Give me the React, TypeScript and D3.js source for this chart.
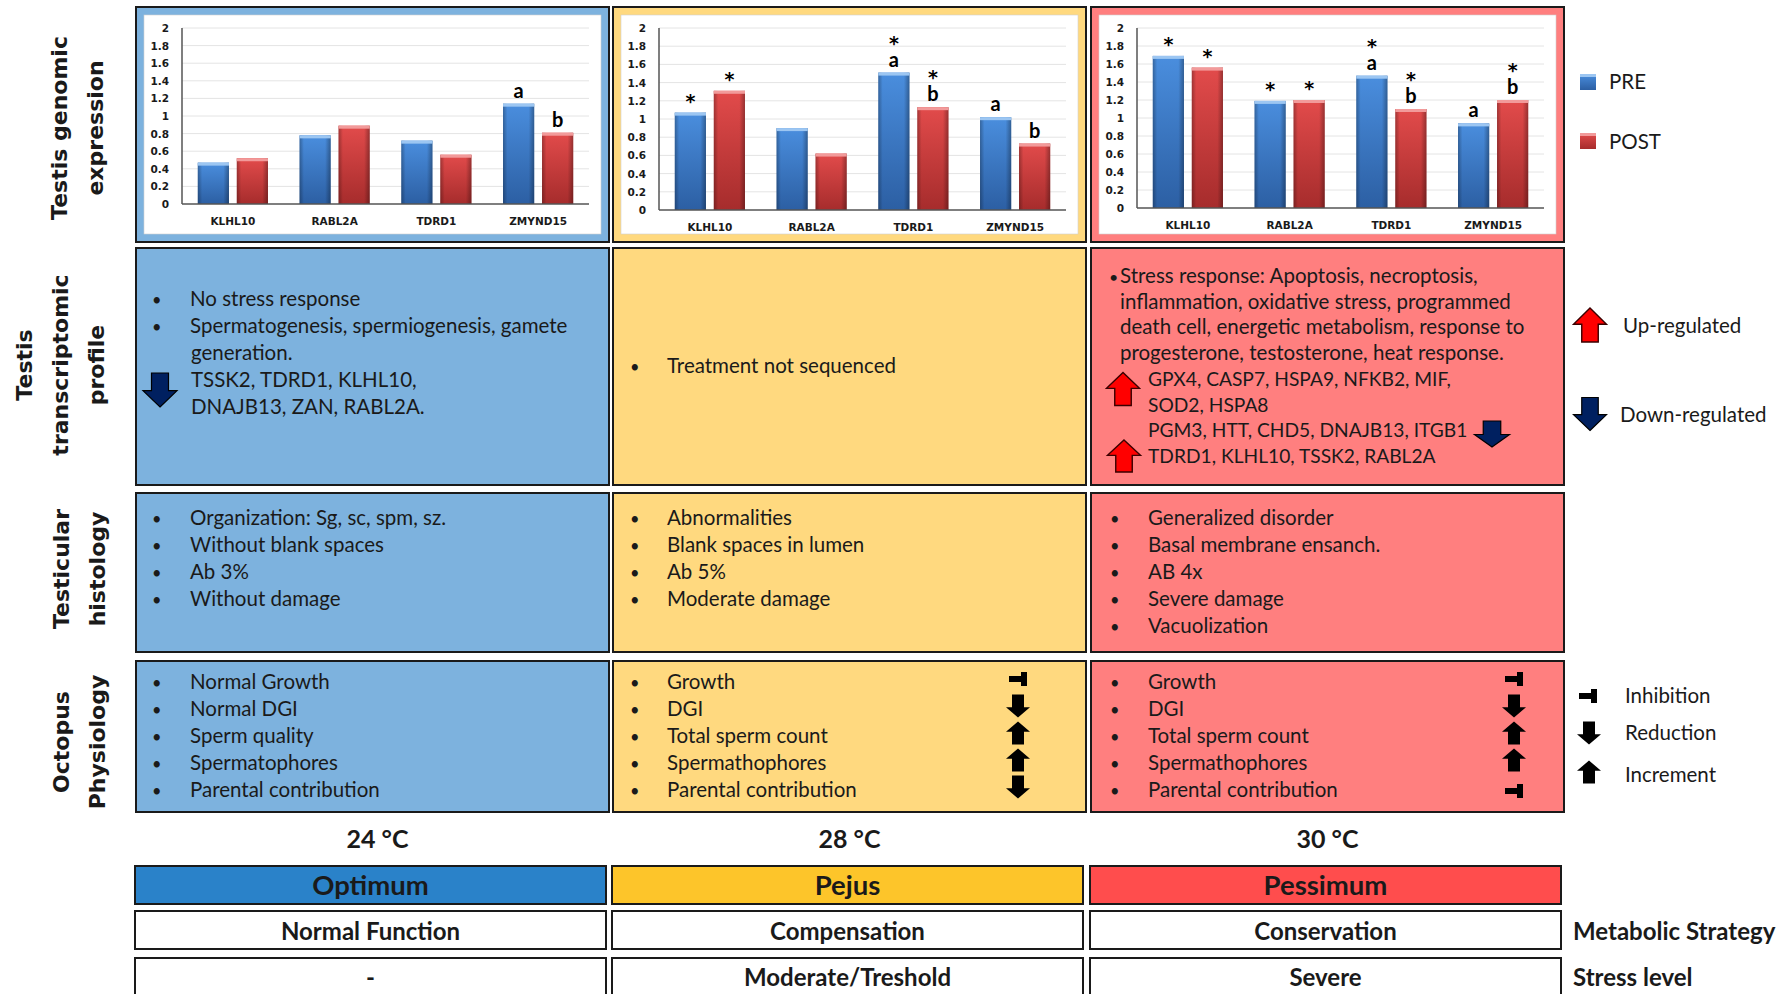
import React from "react";
import * as d3 from "d3";

// ---- data -------------------------------------------------------------
const genes = ["KLHL10", "RABL2A", "TDRD1", "ZMYND15"];
const groups = ["PRE", "POST"];
const temperatures = ["24 °C", "28 °C", "30 °C"];
const zones = ["Optimum", "Pejus", "Pessimum"];
const strategies = ["Normal Function", "Compensation", "Conservation"];
const stressLevels = ["-", "Moderate/Treshold", "Severe"];

// relative expression per gene (PRE / POST spawning)
const pre24 = [0.47, 0.78, 0.72, 1.14];
const post24 = [0.52, 0.89, 0.56, 0.81];
const pre28 = [1.07, 0.9, 1.51, 1.02];
const post28 = [1.31, 0.62, 1.13, 0.73];
const pre30 = [1.69, 1.19, 1.47, 0.94];
const post30 = [1.56, 1.2, 1.1, 1.2];

// significance marks stacked above each bar, listed from the bar upwards
const marksPre24 = [[], [], [], ["a"]];
const marksPost24 = [[], [], [], ["b"]];
const marksPre28 = [["*"], [], ["a", "*"], ["a"]];
const marksPost28 = [["*"], [], ["b", "*"], ["b"]];
const marksPre30 = [["*"], ["*"], ["a", "*"], ["a"]];
const marksPost30 = [["*"], ["*"], ["b", "*"], ["b", "*"]];

const transcriptomic24 = ["No stress response", "Spermatogenesis, spermiogenesis, gamete"];
const transcriptomic24b = ["generation.", "TSSK2, TDRD1, KLHL10,", "DNAJB13, ZAN, RABL2A."];
const transcriptomic28 = ["Treatment not sequenced"];
const transcriptomic30 = [
  "Stress response: Apoptosis, necroptosis,",
  "inflammation, oxidative stress, programmed",
  "death cell, energetic metabolism, response to",
  "progesterone, testosterone, heat response.",
];
const transcriptomic30genes = [
  "GPX4, CASP7, HSPA9, NFKB2, MIF,",
  "SOD2, HSPA8",
  "PGM3, HTT, CHD5, DNAJB13, ITGB1",
  "TDRD1, KLHL10, TSSK2, RABL2A",
];

const histology24 = ["Organization: Sg, sc, spm, sz.", "Without blank spaces", "Ab 3%", "Without damage"];
const histology28 = ["Abnormalities", "Blank spaces in lumen", "Ab 5%", "Moderate damage"];
const histology30 = ["Generalized disorder", "Basal membrane ensanch.", "AB 4x", "Severe damage", "Vacuolization"];

const physiology24 = ["Normal Growth", "Normal DGI", "Sperm quality", "Spermatophores", "Parental contribution"];
const physiology28 = ["Growth", "DGI", "Total sperm count", "Spermathophores", "Parental contribution"];
const physiology30 = ["Growth", "DGI", "Total sperm count", "Spermathophores", "Parental contribution"];
const trend28 = ["inhibition", "reduction", "increment", "increment", "reduction"];
const trend30 = ["inhibition", "reduction", "increment", "increment", "inhibition"];

const rowLabels = [
  ["Testis genomic", "expression"],
  ["Testis", "transcriptomic", "profile"],
  ["Testicular", "histology"],
  ["Octopus", "Physiology"],
];

// ---- layout & style ------------------------------------------------------
const W = 1787;
const H = 994;
const colX = [136, 613, 1091];
const colW = 473;
const panelFill = ["#7DB2DE", "#FFD97F", "#FF7F7F"];
const zoneFill = ["#2A82C9", "#FDC52A", "#FF4D4D"];
const chartBottoms = [204, 210, 208];
const BODY = "Lato, 'Open Sans', sans-serif";
const HEAD = "'DejaVu Sans', Verdana, sans-serif";
const INK = "#1a1a1a";
const FS = 20.5;

function blockArrow(cx: number, cy: number, w: number, h: number, dir: "up" | "down", shaft = 0.5, head = 0.48) {
  const s = dir === "up" ? 1 : -1;
  const tip = cy - (s * h) / 2;
  const base = cy + (s * h) / 2;
  const neck = tip + s * h * head;
  const pts: [number, number][] = [
    [cx, tip],
    [cx + w / 2, neck],
    [cx + (w * shaft) / 2, neck],
    [cx + (w * shaft) / 2, base],
    [cx - (w * shaft) / 2, base],
    [cx - (w * shaft) / 2, neck],
    [cx - w / 2, neck],
  ];
  return d3.line()(pts) + "Z";
}

function Inhibit({ cx, cy }: { cx: number; cy: number }) {
  return (
    <g fill="#000">
      <rect x={cx - 9} y={cy - 3} width={15} height={6} />
      <rect x={cx + 3} y={cy - 7} width={6} height={14} />
    </g>
  );
}

function TrendMark({ kind, cx, cy }: { kind: string; cx: number; cy: number }) {
  if (kind === "inhibition") return <Inhibit cx={cx} cy={cy} />;
  return <path d={blockArrow(cx, cy, 24, 23, kind === "increment" ? "up" : "down", 0.5, 0.45)} fill="#000" />;
}

function ExpressionChart({ idx, pre, post, preMarks, postMarks }: any) {
  const x0 = colX[idx];
  const bottom = chartBottoms[idx];
  const left = x0 + 46;
  const right = x0 + colW - 20;
  const y = d3.scaleLinear().domain([0, 2]).range([bottom, 28]);
  const xb = d3.scaleBand().domain(genes).range([left, right]).paddingInner(0.31).paddingOuter(0.155);
  const xs = d3.scaleBand().domain(groups).range([0, xb.bandwidth()]).paddingInner(0.2);
  const ticks = y.ticks(10);
  const values = [pre, post];
  const marks = [preMarks, postMarks];
  return (
    <g>
      <rect x={x0} y={7} width={colW} height={235} fill={panelFill[idx]} stroke={INK} strokeWidth={2} />
      <rect x={x0 + 8} y={15} width={colW - 16} height={219} fill="#fff" stroke="#cfcfcf" strokeWidth={0.6} />
      {ticks.map((t) => (
        <g key={t}>
          {t > 0 && <line x1={left} x2={right} y1={y(t)} y2={y(t)} stroke="#e4e4e4" strokeWidth={1} />}
          <text
            x={left - 13}
            y={y(t)}
            textAnchor="end"
            dominantBaseline="central"
            fontFamily={HEAD}
            fontWeight="bold"
            fontSize={10.5}
            fill={INK}
          >
            {String(+t.toFixed(1))}
          </text>
        </g>
      ))}
      {genes.map((g, gi) =>
        groups.map((s, si) => {
          const v = values[si][gi];
          const bx = (xb(g) as number) + (xs(s) as number);
          const bw = xs.bandwidth();
          const top = y(v);
          const fillId = si === 0 ? "barBlue" : "barRed";
          return (
            <g key={g + s}>
              <rect x={bx} y={top} width={bw} height={bottom - top} fill={`url(#${fillId})`} />
              <rect x={bx} y={top} width={bw} height={bottom - top} fill="url(#barEdge)" />
              <rect x={bx} y={top} width={bw} height={3} fill={si === 0 ? "#9CC6F2" : "#F29A9A"} />
              {marks[si][gi].map((m: string, mi: number) => {
                const cx = bx + bw / 2;
                // letters sit on a baseline just above the bar; an asterisk stacked
                // over a letter is lifted by one line
                const base = m === "*" ? (mi === 0 ? top - 5 : top - 23) : top - 6;
                return (
                  <text
                    key={mi}
                    x={cx}
                    y={base}
                    textAnchor="middle"
                    fontFamily={m === "*" ? HEAD : BODY}
                    fontWeight="bold"
                    fontSize={m === "*" ? 19 : 20}
                    fill="#000"
                  >
                    {m}
                  </text>
                );
              })}
            </g>
          );
        })
      )}
      <line x1={left} x2={left} y1={y(2)} y2={bottom} stroke="#555" strokeWidth={1.5} />
      <line x1={left} x2={right} y1={bottom} y2={bottom} stroke="#555" strokeWidth={1.5} />
      {genes.map((g) => (
        <text
          key={g}
          x={(xb(g) as number) + xb.bandwidth() / 2}
          y={bottom + 17}
          textAnchor="middle"
          dominantBaseline="central"
          fontFamily={HEAD}
          fontWeight="bold"
          fontSize={10.5}
          fill={INK}
        >
          {g}
        </text>
      ))}
    </g>
  );
}

function Bullets({ x0, lines, baseline, step = 27, bulletDx = 16, textDx = 54, size = FS }: any) {
  return (
    <g fontFamily={BODY} fontSize={size} fill={INK}>
      {lines.map((t: string, i: number) => (
        <g key={i}>
          <text x={x0 + bulletDx} y={baseline + i * step} fontSize={size * 0.8}>
            •
          </text>
          <text x={x0 + textDx} y={baseline + i * step}>
            {t}
          </text>
        </g>
      ))}
    </g>
  );
}

function Panel({ idx, y, h }: { idx: number; y: number; h: number }) {
  return <rect x={colX[idx]} y={y} width={colW} height={h} fill={panelFill[idx]} stroke={INK} strokeWidth={2} />;
}

export default function App() {
  const rowLabelPos = [
    { xs: [59, 95], cy: 128 },
    { xs: [24, 60, 96], cy: 365 },
    { xs: [61, 97], cy: 569 },
    { xs: [61, 97], cy: 742 },
  ];
  const physioBase = 689;
  return (
    <svg width={W} height={H} style={{ position: "absolute", left: 0, top: 0, background: "#fff" }}>
      <defs>
        <linearGradient id="barBlue" x1="0" y1="0" x2="0" y2="1">
          <stop offset="0%" stopColor="#4A8EDE" />
          <stop offset="100%" stopColor="#2C5FA3" />
        </linearGradient>
        <linearGradient id="barRed" x1="0" y1="0" x2="0" y2="1">
          <stop offset="0%" stopColor="#E24B4B" />
          <stop offset="100%" stopColor="#A62C2C" />
        </linearGradient>
        <linearGradient id="barEdge" x1="0" y1="0" x2="1" y2="0">
          <stop offset="0%" stopColor="#000" stopOpacity={0.28} />
          <stop offset="14%" stopColor="#000" stopOpacity={0} />
          <stop offset="82%" stopColor="#000" stopOpacity={0} />
          <stop offset="100%" stopColor="#000" stopOpacity={0.32} />
        </linearGradient>
      </defs>

      {/* row titles */}
      {rowLabels.map((lines, r) => (
        <g key={r}>
          {lines.map((t, i) => {
            const x = rowLabelPos[r].xs[i];
            const cy = rowLabelPos[r].cy;
            return (
              <text
                key={i}
                x={x}
                y={cy}
                transform={`rotate(-90, ${x}, ${cy})`}
                textAnchor="middle"
                dominantBaseline="central"
                fontFamily={HEAD}
                fontWeight="bold"
                fontSize={22}
                fill={INK}
              >
                {t}
              </text>
            );
          })}
        </g>
      ))}

      {/* row 1: gene expression bar charts */}
      <ExpressionChart idx={0} pre={pre24} post={post24} preMarks={marksPre24} postMarks={marksPost24} />
      <ExpressionChart idx={1} pre={pre28} post={post28} preMarks={marksPre28} postMarks={marksPost28} />
      <ExpressionChart idx={2} pre={pre30} post={post30} preMarks={marksPre30} postMarks={marksPost30} />

      {/* bar legend */}
      {groups.map((g, i) => (
        <g key={g}>
          <rect x={1580} y={74 + i * 59} width={16} height={16} fill={i === 0 ? "url(#barBlue)" : "url(#barRed)"} />
          <rect x={1580} y={74 + i * 59} width={16} height={3} fill={i === 0 ? "#9CC6F2" : "#F29A9A"} />
          <text x={1609} y={89 + i * 60} fontFamily={BODY} fontSize={FS} fill={INK}>
            {g}
          </text>
        </g>
      ))}

      {/* row 2: transcriptomic profile */}
      {[0, 1, 2].map((i) => (
        <Panel key={i} idx={i} y={248} h={237} />
      ))}
      <Bullets x0={colX[0]} lines={transcriptomic24} baseline={306} />
      {transcriptomic24b.map((t, i) => (
        <text key={t} x={colX[0] + 55} y={360 + i * 27} fontFamily={BODY} fontSize={FS} fill={INK}>
          {t}
        </text>
      ))}
      <path d={blockArrow(160, 390, 34, 34, "down")} fill="#002060" stroke="#000" strokeWidth={1.2} />
      <Bullets x0={colX[1]} lines={transcriptomic28} baseline={373} bulletDx={17} />
      <text x={colX[2] + 18} y={283} fontFamily={BODY} fontSize={16} fill={INK}>
        •
      </text>
      {transcriptomic30.map((t, i) => (
        <text key={t} x={colX[2] + 29} y={283 + i * 25.7} fontFamily={BODY} fontSize={FS} fill={INK}>
          {t}
        </text>
      ))}
      {transcriptomic30genes.map((t, i) => (
        <text key={t} x={colX[2] + 57} y={386 + i * 25.5} fontFamily={BODY} fontSize={19.2} fill={INK}>
          {t}
        </text>
      ))}
      <path d={blockArrow(1123, 389, 33, 33, "up")} fill="#FF0000" stroke="#3a0000" strokeWidth={1.4} />
      <path d={blockArrow(1124, 456, 33, 32, "up")} fill="#FF0000" stroke="#3a0000" strokeWidth={1.4} />
      <path d={blockArrow(1492, 434, 35, 26, "down")} fill="#002060" stroke="#000" strokeWidth={1.2} />

      {/* regulation legend */}
      <path d={blockArrow(1590, 325, 33, 34, "up")} fill="#FF0000" stroke="#3a0000" strokeWidth={1.4} />
      <text x={1623} y={333} fontFamily={BODY} fontSize={FS} fill={INK}>
        Up-regulated
      </text>
      <path d={blockArrow(1590, 414, 33, 33, "down")} fill="#002060" stroke="#000" strokeWidth={1.2} />
      <text x={1620} y={422} fontFamily={BODY} fontSize={FS} fill={INK}>
        Down-regulated
      </text>

      {/* row 3: histology */}
      {[0, 1, 2].map((i) => (
        <Panel key={i} idx={i} y={493} h={159} />
      ))}
      <Bullets x0={colX[0]} lines={histology24} baseline={525} />
      <Bullets x0={colX[1]} lines={histology28} baseline={525} bulletDx={17} />
      <Bullets x0={colX[2]} lines={histology30} baseline={525} bulletDx={19} textDx={57} />

      {/* row 4: physiology */}
      {[0, 1, 2].map((i) => (
        <Panel key={i} idx={i} y={661} h={151} />
      ))}
      <Bullets x0={colX[0]} lines={physiology24} baseline={physioBase} />
      <Bullets x0={colX[1]} lines={physiology28} baseline={physioBase} bulletDx={17} />
      <Bullets x0={colX[2]} lines={physiology30} baseline={physioBase} bulletDx={19} textDx={57} />
      {trend28.map((k, i) => (
        <TrendMark key={i} kind={k} cx={1018} cy={physioBase - 10 + i * 27} />
      ))}
      {trend30.map((k, i) => (
        <TrendMark key={i} kind={k} cx={1514} cy={physioBase - 10 + i * 27 + (i === 4 ? 4 : 0)} />
      ))}

      {/* effect legend */}
      <Inhibit cx={1588} cy={696} />
      <text x={1625} y={703} fontFamily={BODY} fontSize={FS} fill={INK}>
        Inhibition
      </text>
      <TrendMark kind="reduction" cx={1589} cy={733} />
      <text x={1625} y={740} fontFamily={BODY} fontSize={FS} fill={INK}>
        Reduction
      </text>
      <TrendMark kind="increment" cx={1589} cy={772} />
      <text x={1625} y={782} fontFamily={BODY} fontSize={FS} fill={INK}>
        Increment
      </text>

      {/* temperatures and thermal zones */}
      {temperatures.map((t, i) => (
        <text
          key={t}
          x={colX[i] + colW / 2 + (i === 0 ? 5 : 0)}
          y={848}
          textAnchor="middle"
          fontFamily={BODY}
          fontWeight="bold"
          fontSize={25}
          fill={INK}
        >
          {t}
        </text>
      ))}
      {zones.map((z, i) => (
        <g key={z}>
          <rect x={colX[i] - 1} y={866} width={colW - 2} height={38} fill={zoneFill[i]} stroke={INK} strokeWidth={2} />
          <text
            x={colX[i] + colW / 2 - 2}
            y={895}
            textAnchor="middle"
            fontFamily={BODY}
            fontWeight="bold"
            fontSize={27.5}
            fill={INK}
          >
            {z}
          </text>
        </g>
      ))}
      {strategies.map((s, i) => (
        <g key={s}>
          <rect x={colX[i] - 1} y={911} width={colW - 2} height={38} fill="#fff" stroke={INK} strokeWidth={2} />
          <text
            x={colX[i] + colW / 2 - 2}
            y={940}
            textAnchor="middle"
            fontFamily={BODY}
            fontWeight="bold"
            fontSize={24}
            fill={INK}
          >
            {s}
          </text>
        </g>
      ))}
      {stressLevels.map((s, i) => (
        <g key={s}>
          <rect x={colX[i] - 1} y={958} width={colW - 2} height={45} fill="#fff" stroke={INK} strokeWidth={2} />
          <text
            x={colX[i] + colW / 2 - 2}
            y={986}
            textAnchor="middle"
            fontFamily={BODY}
            fontWeight="bold"
            fontSize={24}
            fill={INK}
          >
            {s}
          </text>
        </g>
      ))}
      <text x={1573} y={940} fontFamily={BODY} fontWeight="bold" fontSize={24} fill={INK}>
        Metabolic Strategy
      </text>
      <text x={1573} y={986} fontFamily={BODY} fontWeight="bold" fontSize={24} fill={INK}>
        Stress level
      </text>
    </svg>
  );
}
